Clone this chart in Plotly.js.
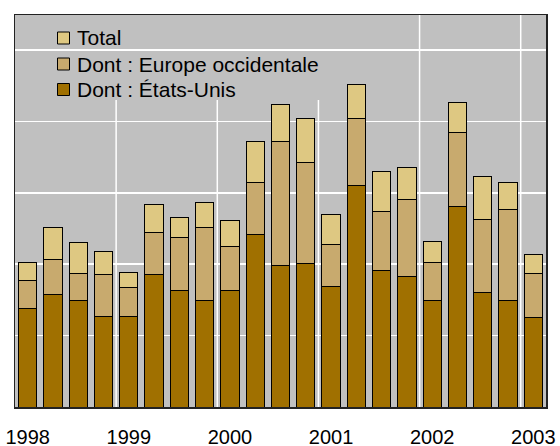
<!DOCTYPE html>
<html>
<head>
<meta charset="utf-8">
<script src="https://cdn.plot.ly/plotly-3.0.1.min.js"></script>
<style>html,body{margin:0;padding:0;background:#fff;}</style>
</head>
<body>
<div id="chart" style="width:560px;height:446px;"></div>
<script>
// Quarters 1998 Q1 .. 2003 Q1
const quarters = ["1998T1","1998T2","1998T3","1998T4","1999T1","1999T2","1999T3","1999T4",
  "2000T1","2000T2","2000T3","2000T4","2001T1","2001T2","2001T3","2001T4",
  "2002T1","2002T2","2002T3","2002T4","2003T1"];
const yearLabels = ["1998","1999","2000","2001","2002","2003"];
const seriesNames = ["Total", "Dont : Europe occidentale", "Dont : États-Unis"];
const seriesColors = ["#DEC882", "#C8AA6E", "#A07000"];
const unitedStates = [13.8,15.8,14.9,12.7,12.7,18.5,16.3,14.9,16.3,24.1,19.8,20.1,16.9,31.0,19.1,18.3,14.9,28.1,16.1,14.9,12.5];
const westernEurope = [3.9,4.9,3.8,5.8,4.0,6.0,7.4,10.3,6.2,7.3,17.4,14.1,5.9,9.4,8.3,10.7,5.4,10.3,10.2,12.7,6.2];
const total = [20.3,25.2,23.0,21.8,18.9,28.4,26.5,28.6,26.1,37.2,42.4,40.4,27.0,45.1,33.0,33.5,23.2,42.6,32.3,31.4,21.4];

const xIdx = quarters.map((q, i) => i);
const rest = total.map((t, i) => +(t - unitedStates[i] - westernEurope[i]).toFixed(2));
const yearTickVals = [];
const yearBounds = [];
quarters.forEach((q, i) => {
  if (q.endsWith("T1")) { yearTickVals.push(i); if (i > 0) yearBounds.push(i - 0.5); }
});

const lineStyle = {color: "#000000", width: 1};
const traces = [
  {type: "bar", x: xIdx, y: unitedStates, name: seriesNames[2],
   marker: {color: seriesColors[2], line: lineStyle}, hoverinfo: "skip"},
  {type: "bar", x: xIdx, y: westernEurope, name: seriesNames[1],
   marker: {color: seriesColors[1], line: lineStyle}, hoverinfo: "skip"},
  {type: "bar", x: xIdx, y: rest, name: seriesNames[0],
   marker: {color: seriesColors[0], line: lineStyle}, hoverinfo: "skip"}
];

// plot area in pixels (for legend placement)
const PL = 15, PR = 546, PT = 15, PB = 407;
const px2x = p => (p - PL) / (PR - PL);
const px2y = p => (PB - p) / (PB - PT);

const shapes = yearBounds.map(b => ({
  type: "line", xref: "x", yref: "y domain", x0: b, x1: b, y0: 0, y1: 1,
  line: {color: "#ffffff", width: 1.5}, layer: "below"
}));
// legend background (covers gridlines like the original)
shapes.push({type: "rect", xref: "x domain", yref: "y domain",
  x0: px2x(35), x1: px2x(326), y0: px2y(100), y1: 1,
  fillcolor: "#C0C0C0", line: {width: 0}, layer: "below"});

const legendRows = [38, 64, 89.5];
const annotations = [];
seriesNames.forEach((name, k) => {
  const cy = legendRows[k];
  shapes.push({type: "rect", xref: "x domain", yref: "y domain",
    x0: px2x(57.5), x1: px2x(69.5), y0: px2y(cy + 6), y1: px2y(cy - 6),
    fillcolor: seriesColors[k], line: {color: "#000000", width: 1}, layer: "above"});
  annotations.push({xref: "x domain", yref: "y domain", x: px2x(75), y: px2y(cy),
    xanchor: "left", yanchor: "middle", text: name, showarrow: false,
    font: {family: "Liberation Sans, Arial, sans-serif", size: 21, color: "#000000"}});
});

const layout = {
  width: 560, height: 446,
  margin: {l: PL, r: 560 - PR, t: PT, b: 446 - PB, pad: 0},
  paper_bgcolor: "#ffffff",
  plot_bgcolor: "#C0C0C0",
  barmode: "stack",
  bargap: 0.28,
  font: {family: "Liberation Sans, Arial, sans-serif", size: 20, color: "#000000"},
  showlegend: false,
  xaxis: {
    range: [-0.5, 20.5], tickmode: "array", tickvals: yearTickVals, ticktext: yearLabels,
    showgrid: false, zeroline: false, ticks: "", ticklabelstandoff: 11,
    showline: true, mirror: true, linecolor: "#222222", linewidth: 1.5,
    tickfont: {size: 20, color: "#000000"}, fixedrange: true
  },
  yaxis: {
    range: [0, 54.9], dtick: 10, tick0: 0, showticklabels: false, ticks: "",
    showgrid: true, gridcolor: "#ffffff", gridwidth: 1.5, zeroline: false,
    showline: true, mirror: true, linecolor: "#222222", linewidth: 1.5, fixedrange: true
  },
  shapes: shapes,
  annotations: annotations
};

Plotly.newPlot("chart", traces, layout, {displayModeBar: false, staticPlot: true});
</script>
</body>
</html>
